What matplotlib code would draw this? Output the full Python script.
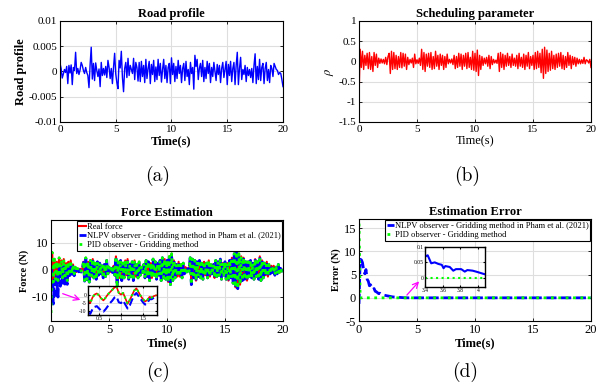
import numpy as np
import matplotlib.pyplot as plt

plt.rcParams['font.family'] = ['Liberation Serif', 'DejaVu Serif']
plt.rcParams['mathtext.fontset'] = 'stix'
plt.rcParams['axes.unicode_minus'] = False

# time axis, 0.1 s sampling
t = np.linspace(0, 20, 201)

# road profile (mm)
road_mm = [
    1.6, 0.6, -1.3, -0.5, 0.4, -0.2, 1.0, -2.4, 1.2, -0.3,
    1.3, -2.6, 0.8, 0.2, 3.8, -0.4, 0.6, -0.6, 0.3, 1.8,
    1.2, 0.2, -0.4, 0.8, -0.2, -0.8, -3.2, 1.3, 4.8, -1.5,
    1.6, -1.8, 1.7, 0.2, -1.0, 0.5, -3.0, 1.8, -0.8, 0.6,
    -0.7, 1.0, -1.2, 2.2, 0.8, -1.4, 0.6, -2.4, 0.8, 3.6,
    -0.5, -2.2, -3.4, 2.2, 0.7, 4.0, -1.2, -4.0, 0.6, 1.8,
    -1.2, 2.6, -0.8, 1.2, 0.4, -0.4, 2.6, -1.6, 1.8, 0.8,
    -1.9, 1.8, -2.0, 2.0, -1.0, 1.2, -2.2, 2.4, -1.4, 0.6,
    2.0, -2.4, 1.4, -0.6, 2.2, -2.0, 0.9, -1.6, 2.4, -0.8,
    1.6, -2.1, 0.4, 2.4, -1.4, 1.2, -2.2, 0.8, 1.6, -2.4,
    2.7, -0.6, 1.6, -2.0, 1.0, -1.4, 2.2, -0.4, 1.2, -2.2,
    0.6, 1.6, -1.8, 2.0, -1.0, 0.4, -2.6, 1.8, -0.4, 0.8,
    -3.5, 3.2, 1.0, 2.4, -1.6, 0.6, 1.6, -1.0, 2.2, -2.0,
    0.8, -1.4, 2.0, -0.4, 1.6, -2.2, 0.8, -1.0, 1.8, 0.0,
    -1.8, 1.4, -0.6, 1.2, -2.2, 0.6, 1.8, -1.2, 0.4, 2.0,
    -2.6, 1.4, -0.8, 2.0, -2.0, 0.6, 1.8, -2.6, 1.2, 3.8,
    -2.6, 0.6, 2.8, -1.6, 0.4, -0.6, 1.2, -2.0, 0.8, -0.8,
    0.4, -1.2, 0.6, -2.2, 1.2, 3.5, -2.4, 1.0, -1.6, 2.4,
    -1.8, 0.8, 1.6, -2.4, 0.6, 1.8, -1.8, 0.4, -2.2, 1.2,
    0.6, -1.0, 1.6, 1.0, 0.4, 0.2, -0.6, -0.2, -0.4, -1.6,
    -3.0]

# scheduling parameter rho, panel (b)
rho = [
    -0.9, 0.3, -0.15, 0.25, -0.2, 0.15, -0.1, 0.2, -0.18, 0.22,
    -0.2, 0.12, -0.25, 0.22, -0.1, 0.18, -0.15, 0.08, -0.05, 0.06,
    -0.04, 0.05, -0.06, 0.1, -0.08, 0.12, 0.2, -0.3, 0.25, -0.2,
    0.22, -0.18, 0.15, -0.2, 0.12, -0.15, 0.22, -0.16, 0.2, -0.12,
    0.18, -0.2, 0.1, -0.08, 0.05, -0.04, 0.08, -0.15, 0.18, -0.06,
    0.04, -0.05, 0.08, -0.1, 0.3, -0.2, 0.22, -0.25, 0.18, -0.12,
    0.2, -0.15, 0.22, -0.2, 0.12, -0.18, 0.25, -0.12, 0.15, -0.2,
    0.18, -0.1, 0.15, -0.2, 0.12, -0.15, 0.18, -0.06, 0.05, -0.04,
    0.06, -0.08, 0.15, -0.18, 0.12, -0.15, 0.2, -0.12, 0.18, -0.2,
    0.15, -0.12, 0.2, -0.18, 0.22, -0.15, 0.1, -0.2, 0.25, -0.22,
    0.2, -0.25, 0.28, -0.35, 0.15, -0.2, 0.12, -0.1, 0.08, -0.06,
    0.1, -0.12, 0.15, -0.18, 0.12, -0.08, 0.05, -0.04, 0.03, -0.05,
    0.2, -0.25, 0.22, -0.15, 0.18, -0.2, 0.15, -0.12, 0.2, -0.1,
    0.12, -0.15, 0.18, -0.1, 0.08, -0.12, 0.15, -0.18, 0.2, -0.12,
    0.1, -0.15, 0.18, -0.2, 0.15, -0.12, 0.22, -0.18, 0.12, -0.1,
    0.15, -0.2, 0.22, -0.18, 0.25, -0.15, 0.2, -0.28, 0.3, -0.42,
    0.35, -0.3, 0.28, -0.25, 0.2, -0.22, 0.25, -0.18, 0.15, -0.2,
    0.18, -0.15, 0.2, -0.12, 0.22, -0.18, 0.15, -0.2, 0.12, -0.15,
    0.22, -0.1, 0.15, -0.18, 0.12, -0.08, 0.1, -0.12, 0.08, -0.06,
    0.05, -0.06, 0.04, -0.05, 0.1, -0.06, 0.04, 0.02, -0.04, 0.05,
    -0.15]

# real suspension force (N), panel (c)
force_real = [
    0.0, 6.5, -4.5, 4.0, -3.5, 3.0, -4.0, 4.5, -2.5, 3.5,
    -3.0, 4.0, -3.5, 2.5, -4.0, 3.0, -2.0, 3.5, -1.5, 2.0,
    -1.5, 1.0, -0.8, 0.5, -0.3, 0.4, -0.5, 0.6, 3.0, -4.0,
    4.5, -3.5, 3.0, -4.5, 3.5, -2.5, 4.0, -3.0, 2.5, -3.5,
    3.0, -2.0, 2.5, -1.5, 1.5, -3.0, 2.0, -2.5, 3.5, -1.5,
    1.0, -0.8, 0.5, -1.0, 1.5, -2.0, 5.0, -6.5, 3.0, -3.0,
    3.5, -4.0, 2.5, -3.0, 3.5, -2.0, 4.0, -3.5, 2.0, -2.5,
    3.0, -4.0, 3.5, -2.5, 2.0, -3.0, 3.0, -2.0, 1.0, -1.0,
    2.0, -3.0, 3.5, -2.5, 3.0, -4.0, 2.5, -3.0, 4.0, -2.0,
    3.0, -3.5, 2.5, -2.0, 3.5, -4.0, 4.5, -3.0, 4.0, -3.5,
    3.5, -4.5, 5.0, -5.5, 6.0, -4.0, 3.5, -3.0, 2.0, -2.5,
    3.0, -2.5, 2.0, -3.0, 2.5, -1.5, 1.0, -0.8, 0.5, -0.5,
    4.5, -5.5, 4.0, -3.0, 3.5, -4.0, 3.0, -2.5, 3.5, -3.0,
    2.5, -3.5, 3.0, -2.0, 2.5, -3.0, 3.5, -2.5, 2.0, -1.5,
    2.0, -3.0, 3.5, -2.5, 3.0, -2.0, 4.0, -3.5, 2.5, -2.0,
    3.0, -3.5, 2.5, -4.0, 3.5, -3.0, 4.5, -5.0, 6.0, -6.5,
    8.0, -7.0, 6.0, -5.5, 5.0, -4.0, 4.5, -3.5, 3.0, -4.0,
    3.0, -2.5, 3.5, -3.0, 2.5, -3.5, 4.0, -2.5, 3.0, -3.5,
    5.0, -4.0, 3.5, -3.0, 2.5, -2.0, 3.0, -2.5, 2.0, -1.5,
    1.5, -1.0, 1.5, -2.0, 1.0, -1.5, 2.0, -1.0, 0.5, -0.5,
    0.0]

# estimation errors (N), panel (d)
err_nlpv = [
    -1.3, 8.3, 8.2, 7.6, 6.0, 5.2, 6.1, 4.0, 3.6, 2.6,
    2.8, 2.2, 1.8, 2.0, 1.4, 1.3, 1.1, 0.9, 1.0, 0.8,
    0.7, 0.6, 0.55, 0.5, 0.45, 0.4, 0.35, 0.3, 0.25, 0.2,
    0.18, 0.15, 0.12, 0.1, 0.08, 0.07, 0.05, 0.04, 0.03, 0.02,
    0.01] + [0.0] * 160
err_pid = [16.0] + [0.0] * 200

# zoomed data in the insets
zoom_t = np.linspace(0.25, 1.8, 32)
zoom_real = [-3.0, -5.0, -1.5, 0.5, 1.2, 0.0, -2.0, -3.3, -1.5, 0.5,
             2.0, 3.5, 5.0, 5.5, 1.5, 0.5, 1.5, -2.0, -5.5, -3.0,
             0.0, 3.0, 4.5, 2.0, -0.5, -2.5, -4.0, -3.0, -1.0, -1.5,
             -0.5, 0.0]
zoom_nlpv = [-11.0, -12.0, -9.0, -7.5, -7.0, -8.5, -10.0, -10.5, -9.0, -7.0,
             -5.0, -3.5, -1.5, -1.0, -4.5, -5.0, -3.5, -6.0, -8.5, -6.5,
             -3.0, 0.0, 1.5, -0.5, -2.5, -4.5, -6.0, -5.0, -2.5, -2.5,
             -1.5, -1.0]
zoom_err_t = [3.40, 3.43, 3.47, 3.51, 3.55, 3.59, 3.61, 3.63, 3.68, 3.72,
              3.75, 3.81, 3.85, 3.88, 3.94, 3.99, 4.07]
zoom_err = [0.069, 0.073, 0.047, 0.05, 0.045, 0.042, 0.031, 0.038, 0.035, 0.023,
            0.028, 0.028, 0.02, 0.025, 0.023, 0.019, 0.012]

labels = ['Real force', 'NLPV observer - Gridding method in Pham et al. (2021)',
          'PID observer - Gridding method']

road = np.array(road_mm) / 1000.0
force_nlpv = np.array(force_real) - np.array(err_nlpv)
force_pid = np.array(force_real) - np.array(err_pid)


def style(ax, size=8):
    ax.grid(True, color='#dedede', lw=0.8)
    ax.set_axisbelow(True)
    ax.tick_params(direction='in', top=True, right=True, length=2.5,
                   labelsize=size, pad=2, width=0.6)
    for s in ax.spines.values():
        s.set_linewidth(0.8)
    ax.set_xlim(0, 20)
    ax.set_xticks([0, 5, 10, 15, 20])


def legend(ax, handles_from=None):
    leg = ax.legend(loc='upper right', bbox_to_anchor=(1.0, 1.0), fontsize=6.1,
                    frameon=True, fancybox=False, edgecolor='black',
                    framealpha=1, handlelength=0.8, handletextpad=0.1,
                    borderpad=0.2, labelspacing=0.15, borderaxespad=0.1)
    leg.get_frame().set_linewidth(0.8)


def inset_style(ax):
    ax.grid(True, color='#dedede', lw=0.6)
    ax.tick_params(direction='in', top=True, right=True, length=1.5,
                   labelsize=4, pad=1)
    for s in ax.spines.values():
        s.set_linewidth(1.0)


fig = plt.figure(figsize=(6.16, 3.87), dpi=100)

# (a) road profile
ax1 = fig.add_axes([0.0974, 0.6848, 0.362, 0.261])
ax1.plot(t, road, color='#0000ff', lw=1.0)
style(ax1)
ax1.set_ylim(-0.01, 0.01)
ax1.set_yticks([-0.01, -0.005, 0, 0.005, 0.01])
ax1.set_yticklabels(['-0.01', '-0.005', '0', '0.005', '0.01'])
ax1.set_title('Road profile', fontsize=9, fontweight='bold', pad=3)
ax1.set_xlabel('Time(s)', fontsize=9, fontweight='bold', labelpad=1)
ax1.set_ylabel('Road profile', fontsize=9, fontweight='bold', labelpad=1)

# (b) scheduling parameter
ax2 = fig.add_axes([0.5828, 0.6848, 0.3766, 0.261])
ax2.plot(t, rho, color='#ff0000', lw=1.0)
style(ax2)
ax2.set_ylim(-1.5, 1)
ax2.set_yticks([-1.5, -1, -0.5, 0, 0.5, 1])
ax2.set_yticklabels(['-1.5', '-1', '-0.5', '0', '0.5', '1'])
ax2.set_title('Scheduling parameter', fontsize=9, fontweight='bold', pad=3)
ax2.set_xlabel('Time(s)', fontsize=9, labelpad=1)
ax2.set_ylabel(r'$\rho$', fontsize=9, labelpad=2)

# (c) force estimation
ax3 = fig.add_axes([0.0828, 0.1705, 0.3766, 0.261])
ax3.plot(t, force_real, color='#ff0000', lw=1.5, label=labels[0])
ax3.plot(t, force_nlpv, color='#0000ff', lw=2, ls='--', label=labels[1])
ax3.plot(t, force_pid, color='#00ff00', lw=2, ls=':', label=labels[2])
style(ax3, 9)
ax3.set_ylim(-19, 18.5)
ax3.set_yticks([-10, 0, 10])
ax3.set_title('Force Estimation', fontsize=9, fontweight='bold', pad=3)
ax3.set_xlabel('Time(s)', fontsize=9, fontweight='bold', labelpad=1)
ax3.set_ylabel('Force (N)', fontsize=7.5, fontweight='bold', labelpad=2)
legend(ax3)
ax3.annotate('', xy=(2.76, -11.5), xytext=(0.78, -8.5), xycoords='data',
             arrowprops=dict(arrowstyle='->', color='#ff00ff', lw=0.9))

ins3 = fig.add_axes([0.1429, 0.186, 0.112, 0.075])
ins3.plot(zoom_t, zoom_real, color='#ff0000', lw=1.2)
ins3.plot(zoom_t, zoom_nlpv, color='#0000ff', lw=1.5, ls='--')
ins3.plot(zoom_t, zoom_real, color='#00ff00', lw=1.5, ls=':')
ins3.set_xlim(0.25, 1.82)
ins3.set_ylim(-12.7, 6)
ins3.set_xticks([0.5, 1, 1.5])
ins3.set_xticklabels(['0.5', '1', '1.5'])
ins3.set_yticks([-10, -5, 0])
inset_style(ins3)

# (d) estimation error
ax4 = fig.add_axes([0.5828, 0.1705, 0.3766, 0.2636])
ax4.plot(t, err_nlpv, color='#0000ff', lw=2, ls='--', label=labels[1])
ax4.plot(t, err_pid, color='#00ff00', lw=2, ls=':', label=labels[2])
style(ax4, 9)
ax4.set_ylim(-5, 17)
ax4.set_yticks([-5, 0, 5, 10, 15])
ax4.set_title('Estimation Error', fontsize=9, fontweight='bold', pad=3)
ax4.set_xlabel('Time(s)', fontsize=9, fontweight='bold', labelpad=1)
ax4.set_ylabel('Error (N)', fontsize=7.5, fontweight='bold', labelpad=2)
legend(ax4)
ax4.annotate('', xy=(5.34, 4.0), xytext=(3.97, 0.16), xycoords='data',
             arrowprops=dict(arrowstyle='->', color='#ff00ff', lw=0.9))

ins4 = fig.add_axes([0.69, 0.2584, 0.0974, 0.1034])
ins4.plot(zoom_err_t, zoom_err, color='#0000ff', lw=1.5)
ins4.plot([3.4, 4.08], [0, 0], color='#00ff00', lw=1.5, ls=':')
ins4.set_xlim(3.4, 4.08)
ins4.set_ylim(-0.03, 0.1)
ins4.set_xticks([3.4, 3.6, 3.8, 4])
ins4.set_xticklabels(['3.4', '3.6', '3.8', '4'])
ins4.set_yticks([0, 0.05, 0.1])
ins4.set_yticklabels(['0', '0.05', '0.1'])
inset_style(ins4)

# sub-figure captions
for x, y, s in [(158, 176, '(a)'), (467, 176, '(b)'),
                (158, 372, '(c)'), (465, 372, '(d)')]:
    fig.text(x / 616, 1 - y / 387, s, fontsize=14, family='cmr10',
             ha='center', va='center')

fig.savefig('out.png', dpi=100)
